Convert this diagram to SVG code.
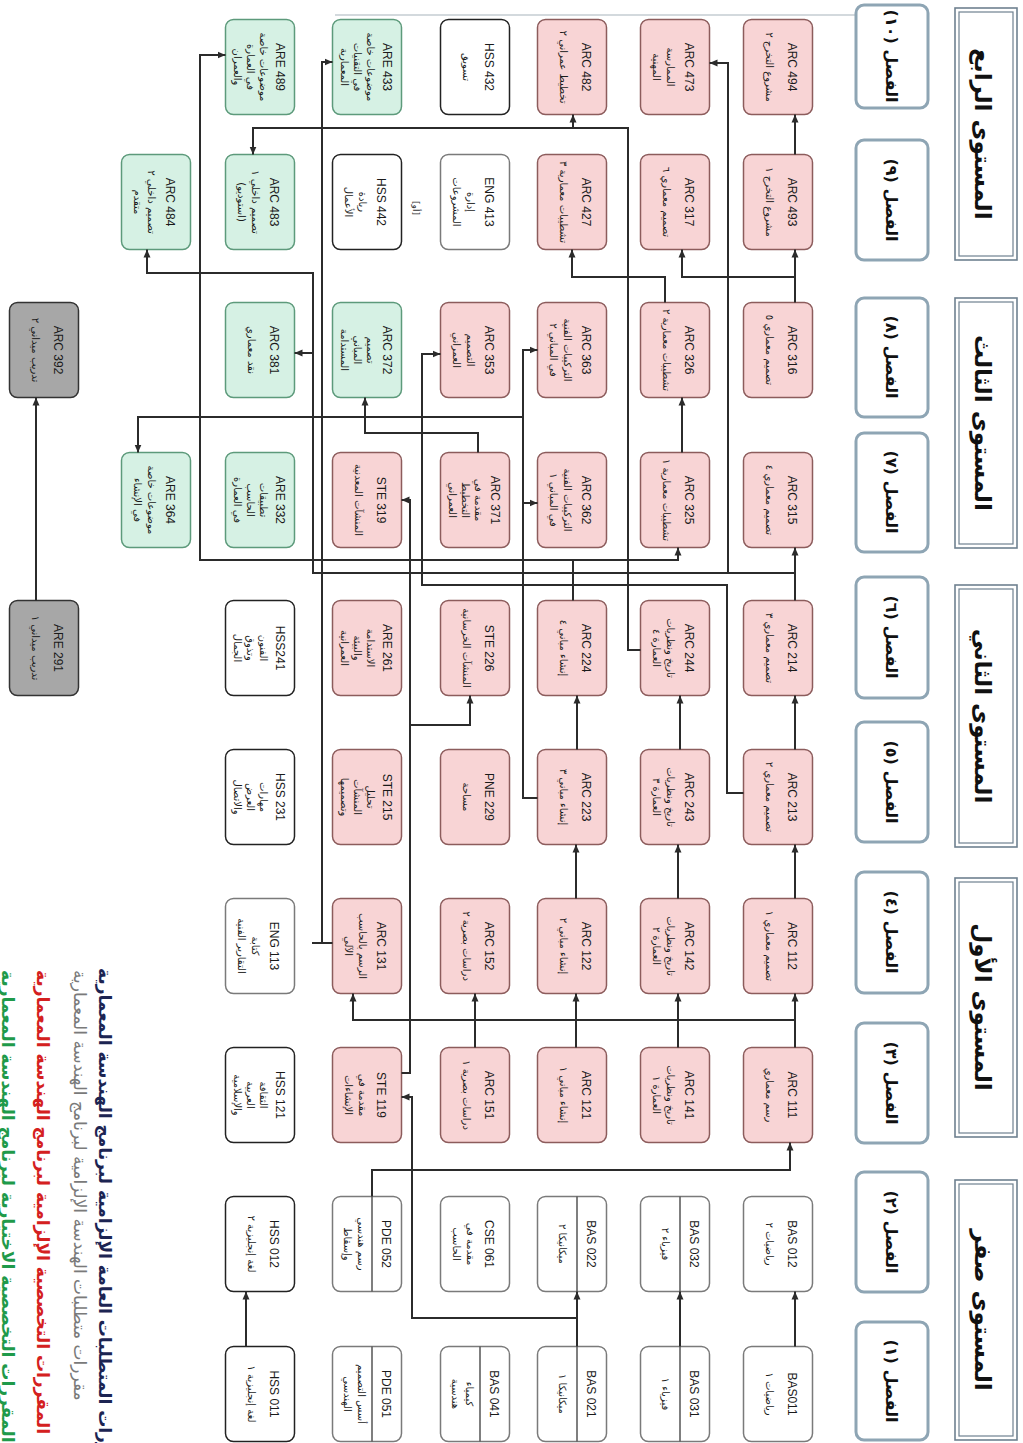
<svg xmlns="http://www.w3.org/2000/svg" width="1023" height="1443" viewBox="0 0 1023 1443">
<defs>
<marker id="arr" markerWidth="8" markerHeight="8" refX="8" refY="4" orient="auto" markerUnits="userSpaceOnUse"><path d="M0,0.5 L8,4 L0,7.5 z" fill="#2b2b2b"/></marker>
<style>
.lvl rect{fill:#fff;stroke:#6f8190}
.lvl .o{stroke-width:1.6}
.lvl .i{stroke-width:1.2}
.lvl text{font-family:'DejaVu Sans',sans-serif;font-weight:bold;font-size:23px;fill:#111;text-anchor:middle;dominant-baseline:central}
.sem rect{fill:#fff;stroke:#8ea5b4;stroke-width:3}
.sem text{font-family:'DejaVu Sans',sans-serif;font-weight:bold;font-size:16px;fill:#111;text-anchor:middle;dominant-baseline:central}
.n rect{stroke-width:1.5}
.pk rect{fill:#f8d4d5;stroke:#8c5c5c}
.gn rect{fill:#d6f1e4;stroke:#5d9a7b}
.wd rect{fill:#fff;stroke:#222}
.wg rect{fill:#fff;stroke:#7a7a7a}
.gy rect{fill:#a7a7a7;stroke:#333}
.n text{text-anchor:middle;dominant-baseline:central;fill:#1a1a1a}
.c{font-family:'Liberation Sans',Arial,sans-serif;font-size:12px}
.t{font-family:'DejaVu Sans',sans-serif;font-size:10px}
.dv{stroke:#555;stroke-width:1.5}
#connectors path{fill:none;stroke:#2b2b2b;stroke-width:2}
#connectors .ar{marker-end:url(#arr)}
.lg{font-family:'DejaVu Sans',sans-serif;font-size:17px;dominant-baseline:central;text-anchor:start}
</style>
</defs>
<rect width="1023" height="1443" fill="#fff"/>
<path d="M335,15 H856" stroke="#a8b4bc" stroke-width="1.2" fill="none"/>

<g id="levels">
<g id="lvl4" class="lvl"><rect class="o" x="955" y="8" width="62" height="252"/><rect class="i" x="959" y="12" width="54" height="244"/><text transform="translate(983,134) rotate(90)">المستوى الرابع</text></g>
<g id="lvl3" class="lvl"><rect class="o" x="955" y="298" width="62" height="250"/><rect class="i" x="959" y="302" width="54" height="242"/><text transform="translate(983,423) rotate(90)">المستوى الثالث</text></g>
<g id="lvl2" class="lvl"><rect class="o" x="955" y="585" width="62" height="262"/><rect class="i" x="959" y="589" width="54" height="254"/><text transform="translate(983,716) rotate(90)">المستوى الثاني</text></g>
<g id="lvl1" class="lvl"><rect class="o" x="955" y="878" width="62" height="259"/><rect class="i" x="959" y="882" width="54" height="251"/><text transform="translate(983,1007) rotate(90)">المستوى الأول</text></g>
<g id="lvl0" class="lvl"><rect class="o" x="955" y="1180" width="62" height="260"/><rect class="i" x="959" y="1184" width="54" height="252"/><text transform="translate(983,1310) rotate(90)">المستوى صفر</text></g>
</g>

<g id="semesters">
<g id="sem10" class="sem"><rect x="856" y="5" width="72" height="103" rx="8"/><text transform="translate(891,56) rotate(90)">الفصل (١٠)</text></g>
<g id="sem9" class="sem"><rect x="856" y="140" width="72" height="120" rx="8"/><text transform="translate(891,200) rotate(90)">الفصل (٩)</text></g>
<g id="sem8" class="sem"><rect x="856" y="298" width="72" height="119" rx="8"/><text transform="translate(891,357) rotate(90)">الفصل (٨)</text></g>
<g id="sem7" class="sem"><rect x="856" y="433" width="72" height="119" rx="8"/><text transform="translate(891,492) rotate(90)">الفصل (٧)</text></g>
<g id="sem6" class="sem"><rect x="856" y="577" width="72" height="121" rx="8"/><text transform="translate(891,637) rotate(90)">الفصل (٦)</text></g>
<g id="sem5" class="sem"><rect x="856" y="722" width="72" height="120" rx="8"/><text transform="translate(891,782) rotate(90)">الفصل (٥)</text></g>
<g id="sem4" class="sem"><rect x="856" y="872" width="72" height="121" rx="8"/><text transform="translate(891,932) rotate(90)">الفصل (٤)</text></g>
<g id="sem3" class="sem"><rect x="856" y="1023" width="72" height="120" rx="8"/><text transform="translate(891,1083) rotate(90)">الفصل (٣)</text></g>
<g id="sem2" class="sem"><rect x="856" y="1172" width="72" height="120" rx="8"/><text transform="translate(891,1232) rotate(90)">الفصل (٢)</text></g>
<g id="sem1" class="sem"><rect x="856" y="1322" width="72" height="118" rx="8"/><text transform="translate(891,1381) rotate(90)">الفصل (١)</text></g>
</g>

<g id="nodes">
<!-- semester 10 -->
<g id="arc494" class="n pk" transform="translate(778,67) rotate(90)"><rect x="-47.5" y="-34.5" width="95" height="69" rx="8"/><text class="c" y="-14">ARC 494</text><text class="t" y="9">مشروع التخرج ٢</text></g>
<g id="arc473" class="n pk" transform="translate(675,67) rotate(90)"><rect x="-47.5" y="-34.5" width="95" height="69" rx="8"/><text class="c" y="-14">ARC 473</text><text class="t" y="5">الممارسة</text><text class="t" y="19">المهنية</text></g>
<g id="arc482" class="n pk" transform="translate(572,67) rotate(90)"><rect x="-47.5" y="-34.5" width="95" height="69" rx="8"/><text class="c" y="-14">ARC 482</text><text class="t" y="9">تخطيط عمراني ٢</text></g>
<g id="hss432" class="n wd" transform="translate(475,67) rotate(90)"><rect x="-47.5" y="-34.5" width="95" height="69" rx="8"/><text class="c" y="-14">HSS 432</text><text class="t" y="9">تسويق</text></g>
<g id="are433" class="n gn" transform="translate(367,67) rotate(90)"><rect x="-47.5" y="-34.5" width="95" height="69" rx="8"/><text class="c" y="-20">ARE 433</text><text class="t" y="-3">موضوعات خاصة</text><text class="t" y="10">في التقنيات</text><text class="t" y="23">المعمارية</text></g>
<g id="are489" class="n gn" transform="translate(260,67) rotate(90)"><rect x="-47.5" y="-34.5" width="95" height="69" rx="8"/><text class="c" y="-20">ARE 489</text><text class="t" y="-3">موضوعات خاصة</text><text class="t" y="10">في العمارة</text><text class="t" y="23">والعمران</text></g>
<!-- semester 9 -->
<g id="arc493" class="n pk" transform="translate(778,202) rotate(90)"><rect x="-47.5" y="-34.5" width="95" height="69" rx="8"/><text class="c" y="-14">ARC 493</text><text class="t" y="9">مشروع التخرج ١</text></g>
<g id="arc317" class="n pk" transform="translate(675,202) rotate(90)"><rect x="-47.5" y="-34.5" width="95" height="69" rx="8"/><text class="c" y="-14">ARC 317</text><text class="t" y="9">تصميم معماري ٦</text></g>
<g id="arc427" class="n pk" transform="translate(572,202) rotate(90)"><rect x="-47.5" y="-34.5" width="95" height="69" rx="8"/><text class="c" y="-14">ARC 427</text><text class="t" y="9">تشطيبات معمارية ٣</text></g>
<g id="eng413" class="n wg" transform="translate(475,202) rotate(90)"><rect x="-47.5" y="-34.5" width="95" height="69" rx="8"/><text class="c" y="-14">ENG 413</text><text class="t" y="5">إدارة</text><text class="t" y="19">المشروعات</text></g>
<g id="hss442" class="n wd" transform="translate(367,202) rotate(90)"><rect x="-47.5" y="-34.5" width="95" height="69" rx="8"/><text class="c" y="-14">HSS 442</text><text class="t" y="5">ريادة</text><text class="t" y="19">الأعمال</text></g>
<text transform="translate(416,208) rotate(90)" font-family="'DejaVu Sans',sans-serif" font-size="9" text-anchor="middle" dominant-baseline="central" fill="#333">[أو]</text>
<g id="arc483" class="n gn" transform="translate(260,202) rotate(90)"><rect x="-47.5" y="-34.5" width="95" height="69" rx="8"/><text class="c" y="-14">ARC 483</text><text class="t" y="5">تصميم داخلي ١</text><text class="t" y="19">(استوديو)</text></g>
<g id="arc484" class="n gn" transform="translate(156,202) rotate(90)"><rect x="-47.5" y="-34.5" width="95" height="69" rx="8"/><text class="c" y="-14">ARC 484</text><text class="t" y="5">تصميم داخلي ٢</text><text class="t" y="19">متقدم</text></g>
<!-- semester 8 -->
<g id="arc316" class="n pk" transform="translate(778,350) rotate(90)"><rect x="-47.5" y="-34.5" width="95" height="69" rx="8"/><text class="c" y="-14">ARC 316</text><text class="t" y="9">تصميم معماري ٥</text></g>
<g id="arc326" class="n pk" transform="translate(675,350) rotate(90)"><rect x="-47.5" y="-34.5" width="95" height="69" rx="8"/><text class="c" y="-14">ARC 326</text><text class="t" y="9">تشطيبات معمارية ٢</text></g>
<g id="arc363" class="n pk" transform="translate(572,350) rotate(90)"><rect x="-47.5" y="-34.5" width="95" height="69" rx="8"/><text class="c" y="-14">ARC 363</text><text class="t" y="5">التركيبات الفنية</text><text class="t" y="19">في المباني ٢</text></g>
<g id="arc353" class="n pk" transform="translate(475,350) rotate(90)"><rect x="-47.5" y="-34.5" width="95" height="69" rx="8"/><text class="c" y="-14">ARC 353</text><text class="t" y="5">التصميم</text><text class="t" y="19">العمراني</text></g>
<g id="arc372" class="n gn" transform="translate(367,350) rotate(90)"><rect x="-47.5" y="-34.5" width="95" height="69" rx="8"/><text class="c" y="-20">ARC 372</text><text class="t" y="-3">تصميم</text><text class="t" y="10">المباني</text><text class="t" y="23">المستدامة</text></g>
<g id="arc381" class="n gn" transform="translate(260,350) rotate(90)"><rect x="-47.5" y="-34.5" width="95" height="69" rx="8"/><text class="c" y="-14">ARC 381</text><text class="t" y="9">نقد معماري</text></g>
<g id="arc392" class="n gy" transform="translate(44,350) rotate(90)"><rect x="-47.5" y="-34.5" width="95" height="69" rx="8"/><text class="c" y="-14">ARC 392</text><text class="t" y="9">تدريب ميداني ٢</text></g>
<!-- semester 7 -->
<g id="arc315" class="n pk" transform="translate(778,500) rotate(90)"><rect x="-47.5" y="-34.5" width="95" height="69" rx="8"/><text class="c" y="-14">ARC 315</text><text class="t" y="9">تصميم معماري ٤</text></g>
<g id="arc325" class="n pk" transform="translate(675,500) rotate(90)"><rect x="-47.5" y="-34.5" width="95" height="69" rx="8"/><text class="c" y="-14">ARC 325</text><text class="t" y="9">تشطيبات معمارية ١</text></g>
<g id="arc362" class="n pk" transform="translate(572,500) rotate(90)"><rect x="-47.5" y="-34.5" width="95" height="69" rx="8"/><text class="c" y="-14">ARC 362</text><text class="t" y="5">التركيبات الفنية</text><text class="t" y="19">في المباني ١</text></g>
<g id="arc371" class="n pk" transform="translate(475,500) rotate(90)"><rect x="-47.5" y="-34.5" width="95" height="69" rx="8"/><text class="c" y="-20">ARC 371</text><text class="t" y="-3">مقدمة في</text><text class="t" y="10">التخطيط</text><text class="t" y="23">العمراني</text></g>
<g id="ste319" class="n pk" transform="translate(367,500) rotate(90)"><rect x="-47.5" y="-34.5" width="95" height="69" rx="8"/><text class="c" y="-14">STE 319</text><text class="t" y="9">المنشآت المعدنية</text></g>
<g id="are332" class="n gn" transform="translate(260,500) rotate(90)"><rect x="-47.5" y="-34.5" width="95" height="69" rx="8"/><text class="c" y="-20">ARE 332</text><text class="t" y="-3">تطبيقات</text><text class="t" y="10">الحاسب</text><text class="t" y="23">في العمارة</text></g>
<g id="are364" class="n gn" transform="translate(156,500) rotate(90)"><rect x="-47.5" y="-34.5" width="95" height="69" rx="8"/><text class="c" y="-14">ARE 364</text><text class="t" y="5">موضوعات خاصة</text><text class="t" y="19">في الإنشاء</text></g>
<!-- semester 6 -->
<g id="arc214" class="n pk" transform="translate(778,648) rotate(90)"><rect x="-47.5" y="-34.5" width="95" height="69" rx="8"/><text class="c" y="-14">ARC 214</text><text class="t" y="9">تصميم معماري ٣</text></g>
<g id="arc244" class="n pk" transform="translate(675,648) rotate(90)"><rect x="-47.5" y="-34.5" width="95" height="69" rx="8"/><text class="c" y="-14">ARC 244</text><text class="t" y="5">تاريخ ونظريات</text><text class="t" y="19">العمارة ٤</text></g>
<g id="arc224" class="n pk" transform="translate(572,648) rotate(90)"><rect x="-47.5" y="-34.5" width="95" height="69" rx="8"/><text class="c" y="-14">ARC 224</text><text class="t" y="9">إنشاء مباني ٤</text></g>
<g id="ste226" class="n pk" transform="translate(475,648) rotate(90)"><rect x="-47.5" y="-34.5" width="95" height="69" rx="8"/><text class="c" y="-14">STE 226</text><text class="t" y="9">المنشآت الخرسانية</text></g>
<g id="are261" class="n pk" transform="translate(367,648) rotate(90)"><rect x="-47.5" y="-34.5" width="95" height="69" rx="8"/><text class="c" y="-20">ARE 261</text><text class="t" y="-3">الاستدامة</text><text class="t" y="10">والبيئة</text><text class="t" y="23">العمرانية</text></g>
<g id="hss241" class="n wd" transform="translate(260,648) rotate(90)"><rect x="-47.5" y="-34.5" width="95" height="69" rx="8"/><text class="c" y="-20">HSS241</text><text class="t" y="-3">الفنون</text><text class="t" y="10">وتذوق</text><text class="t" y="23">الجمال</text></g>
<g id="are291" class="n gy" transform="translate(44,648) rotate(90)"><rect x="-47.5" y="-34.5" width="95" height="69" rx="8"/><text class="c" y="-14">ARE 291</text><text class="t" y="9">تدريب ميداني ١</text></g>
<!-- semester 5 -->
<g id="arc213" class="n pk" transform="translate(778,797) rotate(90)"><rect x="-47.5" y="-34.5" width="95" height="69" rx="8"/><text class="c" y="-14">ARC 213</text><text class="t" y="9">تصميم معماري ٢</text></g>
<g id="arc243" class="n pk" transform="translate(675,797) rotate(90)"><rect x="-47.5" y="-34.5" width="95" height="69" rx="8"/><text class="c" y="-14">ARC 243</text><text class="t" y="5">تاريخ ونظريات</text><text class="t" y="19">العمارة ٣</text></g>
<g id="arc223" class="n pk" transform="translate(572,797) rotate(90)"><rect x="-47.5" y="-34.5" width="95" height="69" rx="8"/><text class="c" y="-14">ARC 223</text><text class="t" y="9">إنشاء مباني ٣</text></g>
<g id="pne229" class="n pk" transform="translate(475,797) rotate(90)"><rect x="-47.5" y="-34.5" width="95" height="69" rx="8"/><text class="c" y="-14">PNE 229</text><text class="t" y="9">مساحة</text></g>
<g id="ste215" class="n pk" transform="translate(367,797) rotate(90)"><rect x="-47.5" y="-34.5" width="95" height="69" rx="8"/><text class="c" y="-20">STE 215</text><text class="t" y="-3">تحليل</text><text class="t" y="10">المنشآت</text><text class="t" y="23">وتصميمها</text></g>
<g id="hss231" class="n wd" transform="translate(260,797) rotate(90)"><rect x="-47.5" y="-34.5" width="95" height="69" rx="8"/><text class="c" y="-20">HSS 231</text><text class="t" y="-3">مهارات</text><text class="t" y="10">العرض</text><text class="t" y="23">والاتصال</text></g>
<!-- semester 4 -->
<g id="arc112" class="n pk" transform="translate(778,946) rotate(90)"><rect x="-47.5" y="-34.5" width="95" height="69" rx="8"/><text class="c" y="-14">ARC 112</text><text class="t" y="9">تصميم معماري ١</text></g>
<g id="arc142" class="n pk" transform="translate(675,946) rotate(90)"><rect x="-47.5" y="-34.5" width="95" height="69" rx="8"/><text class="c" y="-14">ARC 142</text><text class="t" y="5">تاريخ ونظريات</text><text class="t" y="19">العمارة ٢</text></g>
<g id="arc122" class="n pk" transform="translate(572,946) rotate(90)"><rect x="-47.5" y="-34.5" width="95" height="69" rx="8"/><text class="c" y="-14">ARC 122</text><text class="t" y="9">إنشاء مباني ٢</text></g>
<g id="arc152" class="n pk" transform="translate(475,946) rotate(90)"><rect x="-47.5" y="-34.5" width="95" height="69" rx="8"/><text class="c" y="-14">ARC 152</text><text class="t" y="9">دراسات بصرية ٢</text></g>
<g id="arc131" class="n pk" transform="translate(367,946) rotate(90)"><rect x="-47.5" y="-34.5" width="95" height="69" rx="8"/><text class="c" y="-14">ARC 131</text><text class="t" y="5">الرسم بالحاسب</text><text class="t" y="19">الآلي</text></g>
<g id="eng113" class="n wg" transform="translate(260,946) rotate(90)"><rect x="-47.5" y="-34.5" width="95" height="69" rx="8"/><text class="c" y="-14">ENG 113</text><text class="t" y="5">كتابة</text><text class="t" y="19">التقارير الفنية</text></g>
<!-- semester 3 -->
<g id="arc111" class="n pk" transform="translate(778,1095) rotate(90)"><rect x="-47.5" y="-34.5" width="95" height="69" rx="8"/><text class="c" y="-14">ARC 111</text><text class="t" y="9">رسم معماري</text></g>
<g id="arc141" class="n pk" transform="translate(675,1095) rotate(90)"><rect x="-47.5" y="-34.5" width="95" height="69" rx="8"/><text class="c" y="-14">ARC 141</text><text class="t" y="5">تاريخ ونظريات</text><text class="t" y="19">العمارة ١</text></g>
<g id="arc121" class="n pk" transform="translate(572,1095) rotate(90)"><rect x="-47.5" y="-34.5" width="95" height="69" rx="8"/><text class="c" y="-14">ARC 121</text><text class="t" y="9">إنشاء مباني ١</text></g>
<g id="arc151" class="n pk" transform="translate(475,1095) rotate(90)"><rect x="-47.5" y="-34.5" width="95" height="69" rx="8"/><text class="c" y="-14">ARC 151</text><text class="t" y="9">دراسات بصرية ١</text></g>
<g id="ste119" class="n pk" transform="translate(367,1095) rotate(90)"><rect x="-47.5" y="-34.5" width="95" height="69" rx="8"/><text class="c" y="-14">STE 119</text><text class="t" y="5">مقدمة في</text><text class="t" y="19">الإنشاءات</text></g>
<g id="hss121" class="n wd" transform="translate(260,1095) rotate(90)"><rect x="-47.5" y="-34.5" width="95" height="69" rx="8"/><text class="c" y="-20">HSS 121</text><text class="t" y="-3">الثقافة</text><text class="t" y="10">العربية</text><text class="t" y="23">والإسلامية</text></g>
<!-- semester 2 -->
<g id="bas012" class="n wg" transform="translate(778,1244) rotate(90)"><rect x="-47.5" y="-34.5" width="95" height="69" rx="8"/><text class="c" y="-14">BAS 012</text><text class="t" y="9">رياضيات ٢</text></g>
<g id="bas032" class="n wg" transform="translate(675,1244) rotate(90)"><rect x="-47.5" y="-34.5" width="95" height="69" rx="8"/><line class="dv" x1="-47.5" y1="-5" x2="47.5" y2="-5"/><text class="c" y="-19">BAS 032</text><text class="t" y="10">فيزياء ٢</text></g>
<g id="bas022" class="n wg" transform="translate(572,1244) rotate(90)"><rect x="-47.5" y="-34.5" width="95" height="69" rx="8"/><line class="dv" x1="-47.5" y1="-5" x2="47.5" y2="-5"/><text class="c" y="-19">BAS 022</text><text class="t" y="10">ميكانيكا ٢</text></g>
<g id="cse061" class="n wg" transform="translate(475,1244) rotate(90)"><rect x="-47.5" y="-34.5" width="95" height="69" rx="8"/><text class="c" y="-14">CSE 061</text><text class="t" y="5">مقدمة في</text><text class="t" y="19">الحاسب</text></g>
<g id="pde052" class="n wg" transform="translate(367,1244) rotate(90)"><rect x="-47.5" y="-34.5" width="95" height="69" rx="8"/><line class="dv" x1="-47.5" y1="-5" x2="47.5" y2="-5"/><text class="c" y="-19">PDE 052</text><text class="t" y="6">رسم هندسي</text><text class="t" y="20">وإسقاط</text></g>
<g id="hss012" class="n wd" transform="translate(260,1244) rotate(90)"><rect x="-47.5" y="-34.5" width="95" height="69" rx="8"/><text class="c" y="-14">HSS 012</text><text class="t" y="9">لغة إنجليزية ٢</text></g>
<!-- semester 1 -->
<g id="bas011" class="n wg" transform="translate(778,1394) rotate(90)"><rect x="-47.5" y="-34.5" width="95" height="69" rx="8"/><text class="c" y="-14">BAS011</text><text class="t" y="9">رياضيات ١</text></g>
<g id="bas031" class="n wg" transform="translate(675,1394) rotate(90)"><rect x="-47.5" y="-34.5" width="95" height="69" rx="8"/><line class="dv" x1="-47.5" y1="-5" x2="47.5" y2="-5"/><text class="c" y="-19">BAS 031</text><text class="t" y="10">فيزياء ١</text></g>
<g id="bas021" class="n wg" transform="translate(572,1394) rotate(90)"><rect x="-47.5" y="-34.5" width="95" height="69" rx="8"/><line class="dv" x1="-47.5" y1="-5" x2="47.5" y2="-5"/><text class="c" y="-19">BAS 021</text><text class="t" y="10">ميكانيكا ١</text></g>
<g id="bas041" class="n wg" transform="translate(475,1394) rotate(90)"><rect x="-47.5" y="-34.5" width="95" height="69" rx="8"/><line class="dv" x1="-47.5" y1="-5" x2="47.5" y2="-5"/><text class="c" y="-19">BAS 041</text><text class="t" y="6">كيمياء</text><text class="t" y="20">هندسية</text></g>
<g id="pde051" class="n wg" transform="translate(367,1394) rotate(90)"><rect x="-47.5" y="-34.5" width="95" height="69" rx="8"/><line class="dv" x1="-47.5" y1="-5" x2="47.5" y2="-5"/><text class="c" y="-19">PDE 051</text><text class="t" y="6">أسس التصميم</text><text class="t" y="20">الهندسي</text></g>
<g id="hss011" class="n wd" transform="translate(260,1394) rotate(90)"><rect x="-47.5" y="-34.5" width="95" height="69" rx="8"/><text class="c" y="-14">HSS 011</text><text class="t" y="9">لغة إنجليزية ١</text></g>
</g>

<g id="connectors">
<path class="ar" d="M795,1346.5 V1291.5"/>
<path class="ar" d="M795,1047.5 V993.5"/>
<path class="ar" d="M795,898.5 V844.5"/>
<path class="ar" d="M795,749.5 V695.5"/>
<path class="ar" d="M795,600.5 V547.5"/>
<path class="ar" d="M795,302.5 V249.5"/>
<path class="ar" d="M795,154.5 V114.5"/>
<path class="ar" d="M680,1346.5 V1291.5"/>
<path class="ar" d="M678,1047.5 V993.5"/>
<path class="ar" d="M678,898.5 V844.5"/>
<path class="ar" d="M680,749.5 V695.5"/>
<path class="ar" d="M682,452.5 V397.5"/>
<path class="ar" d="M577,1346.5 V1291.5"/>
<path class="ar" d="M576,1047.5 V993.5"/>
<path class="ar" d="M576,898.5 V844.5"/>
<path class="ar" d="M577,749.5 V695.5"/>
<path class="ar" d="M475,1047.5 V993.5"/>
<path class="ar" d="M246,1346.5 V1291.5"/>
<path class="ar" d="M36,600.5 V397.5"/>
<path class="ar" d="M795,1020 H353 V993.5"/>
<path class="ar" d="M372,1196.5 V1170 H790 V1142.5"/>
<path class="ar" d="M577,1318 H412 V1097 H401.5"/>
<path class="ar" d="M401.5,1073 H410 V500 H401.5"/>
<path class="ar" d="M410,725 H470 V695.5"/>
<path class="ar" d="M537.5,798 H523 V350 H537.5"/>
<path class="ar" d="M523,503 H537.5"/>
<path class="ar" d="M523,417 H138 V452.5"/>
<path class="ar" d="M743.5,793 H727 V585 H422 V354 H440.5"/>
<path class="ar" d="M795,573 H313 V273 H147 V249.5"/>
<path class="ar" d="M728,573 V63 H709.5"/>
<path class="ar" d="M313,353 H294.5"/>
<path class="ar" d="M573,600.5 V560 H678 V547.5"/>
<path class="ar" d="M573,560 H200 V55 H225.5"/>
<path class="ar" d="M640.5,650 H628 V128 H253 V154.5"/>
<path class="ar" d="M573,128 V114.5"/>
<path d="M312,943 H332.5"/>
<path class="ar" d="M322,943 V62 H332.5"/>
<path class="ar" d="M478,452.5 V433 H365 V397.5"/>
<path class="ar" d="M795,277 H682 V249.5"/>
<path class="ar" d="M665,302.5 V277 H572 V249.5"/>
</g>

<g id="legend">
<text class="lg" transform="translate(105,968) rotate(90)" fill="#1c2452" font-weight="bold">مقررات المتطلبات العامة الإلزامية لبرنامج الهندسة المعمارية</text>
<text class="lg" transform="translate(80,970) rotate(90)" fill="#7a7a7a">مقررات متطلبات الهندسة الإلزامية لبرنامج الهندسة المعمارية</text>
<text class="lg" transform="translate(43,970) rotate(90)" fill="#d42020" font-weight="bold">المقررات التخصصية الإلزامية لبرنامج الهندسة المعمارية</text>
<text class="lg" transform="translate(8,970) rotate(90)" fill="#1f9a4a" font-weight="bold">المقررات التخصصية الاختيارية لبرنامج الهندسة المعمارية</text>
</g>
</svg>
